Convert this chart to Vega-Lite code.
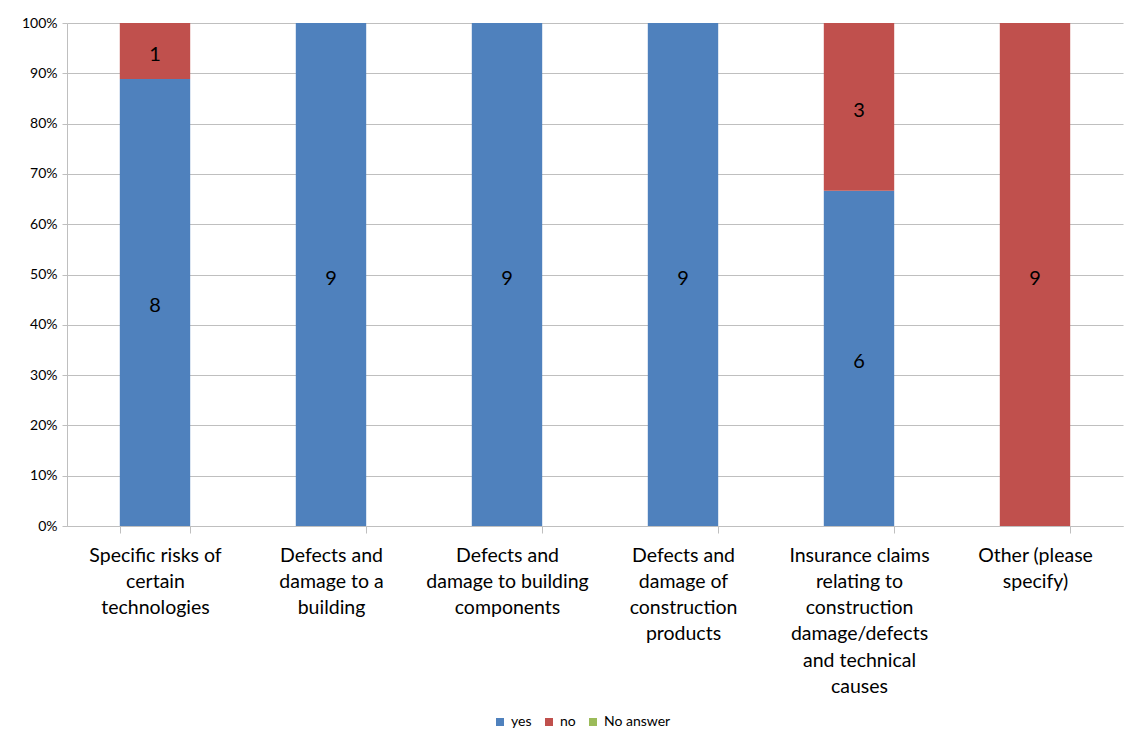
{
  "$schema": "https://vega.github.io/schema/vega-lite/v6.json",
  "width": 1056,
  "height": 503,
  "autosize": "none",
  "padding": {"left": 67, "top": 23, "right": 9, "bottom": 216},
  "background": "white",
  "config": {
    "view": {"stroke": null},
    "font": "Lato"
  },
  "data": {
    "values": [
      {"cat": "Specific risks of|certain|technologies", "answer": "yes", "count": 8},
      {"cat": "Specific risks of|certain|technologies", "answer": "no", "count": 1},
      {"cat": "Specific risks of|certain|technologies", "answer": "No answer", "count": 0},
      {"cat": "Defects and|damage to a|building", "answer": "yes", "count": 9},
      {"cat": "Defects and|damage to a|building", "answer": "no", "count": 0},
      {"cat": "Defects and|damage to a|building", "answer": "No answer", "count": 0},
      {"cat": "Defects and|damage to building|components", "answer": "yes", "count": 9},
      {"cat": "Defects and|damage to building|components", "answer": "no", "count": 0},
      {"cat": "Defects and|damage to building|components", "answer": "No answer", "count": 0},
      {"cat": "Defects and|damage of|construction|products", "answer": "yes", "count": 9},
      {"cat": "Defects and|damage of|construction|products", "answer": "no", "count": 0},
      {"cat": "Defects and|damage of|construction|products", "answer": "No answer", "count": 0},
      {"cat": "Insurance claims|relating to|construction|damage/defects|and technical|causes", "answer": "yes", "count": 6},
      {"cat": "Insurance claims|relating to|construction|damage/defects|and technical|causes", "answer": "no", "count": 3},
      {"cat": "Insurance claims|relating to|construction|damage/defects|and technical|causes", "answer": "No answer", "count": 0},
      {"cat": "Other (please|specify)", "answer": "yes", "count": 0},
      {"cat": "Other (please|specify)", "answer": "no", "count": 9},
      {"cat": "Other (please|specify)", "answer": "No answer", "count": 0}
    ]
  },
  "encoding": {
    "x": {
      "field": "cat",
      "type": "nominal",
      "sort": null,
      "scale": {"paddingInner": 0.6, "paddingOuter": 0.3},
      "axis": {
        "title": null,
        "labelAngle": 0,
        "labelExpr": "split(datum.label, '|')",
        "labelFont": "Lato",
        "labelFontSize": 19.5,
        "labelColor": "#000000",
        "labelLineHeight": 26.3,
        "labelBaseline": "top",
        "labelPadding": 13,
        "labelLimit": 300,
        "tickBand": "extent",
        "tickSize": 7,
        "tickColor": "#bfbfbf",
        "domainColor": "#bfbfbf",
        "grid": false
      }
    },
    "y": {
      "field": "count",
      "type": "quantitative",
      "stack": "normalize",
      "scale": {"domain": [0, 1]},
      "axis": {
        "title": null,
        "format": ".0%",
        "values": [0, 0.1, 0.2, 0.3, 0.4, 0.5, 0.6, 0.7, 0.8, 0.9, 1],
        "labelFont": "Lato",
        "labelFontSize": 14,
        "labelColor": "#000000",
        "labelPadding": 5,
        "tickSize": 5,
        "tickColor": "#bfbfbf",
        "domainColor": "#bfbfbf",
        "gridColor": "#bfbfbf",
        "grid": true
      }
    },
    "order": {"field": "ord", "type": "quantitative"}
  },
  "transform": [
    {"calculate": "datum.answer === 'yes' ? 0 : datum.answer === 'no' ? 1 : 2", "as": "ord"}
  ],
  "layer": [
    {
      "mark": {"type": "bar"},
      "encoding": {
        "color": {
          "field": "answer",
          "type": "nominal",
          "scale": {"domain": ["yes", "no", "No answer"], "range": ["#4F81BD", "#C0504D", "#9BBB59"]},
          "legend": {
            "title": null,
            "orient": "none",
            "direction": "horizontal",
            "legendX": 426,
            "legendY": 692,
            "symbolType": "square",
            "symbolSize": 64,
            "symbolStrokeWidth": 0,
            "labelFont": "Lato",
            "labelFontSize": 14,
            "labelColor": "#000000",
            "columnPadding": 10,
            "labelOffset": 4
          }
        }
      }
    },
    {
      "transform": [{"filter": "datum.count > 0"}],
      "mark": {"type": "text", "font": "Lato", "fontSize": 20, "color": "#000000", "baseline": "middle", "dy": 4},
      "encoding": {
        "y": {"field": "count", "type": "quantitative", "stack": "normalize", "bandPosition": 0.5},
        "text": {"field": "count", "type": "quantitative"}
      }
    }
  ]
}
